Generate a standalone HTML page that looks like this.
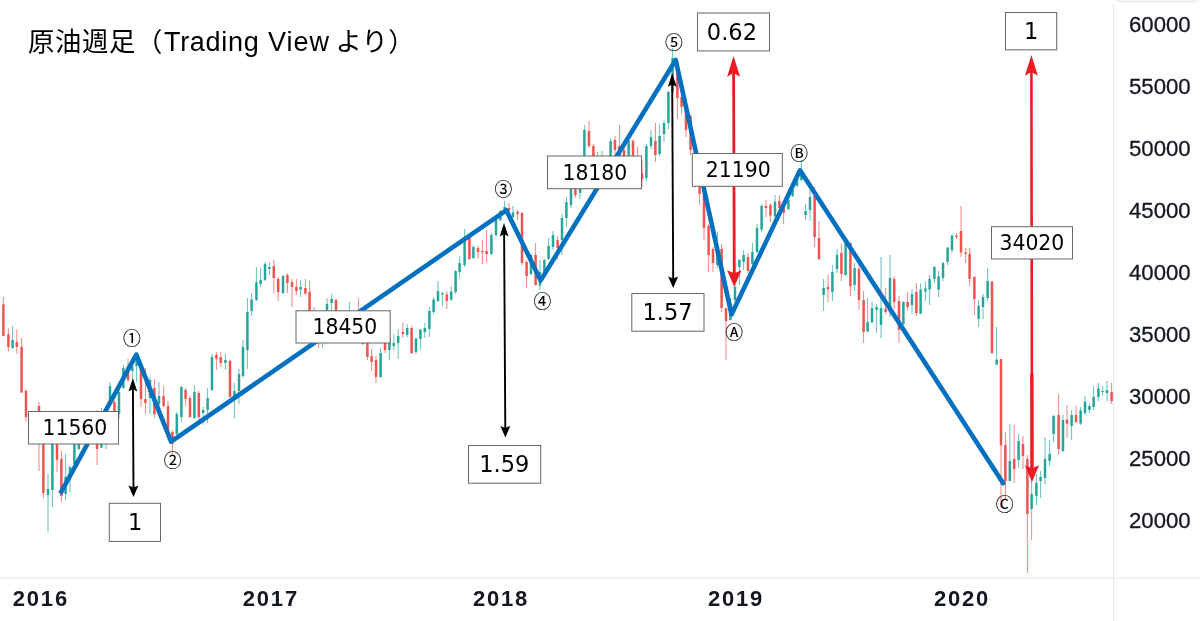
<!DOCTYPE html>
<html lang="ja"><head><meta charset="utf-8"><title>原油週足</title>
<style>
html,body{margin:0;padding:0;background:#fff;}
body{width:1200px;height:621px;overflow:hidden;position:relative;}
svg{position:absolute;left:0;top:0;display:block;}
.num{font-family:"DejaVu Sans","Liberation Sans",sans-serif;fill:#000;}
.ax{font-family:"Liberation Sans","DejaVu Sans",sans-serif;fill:#131722;font-size:22.2px;stroke:#131722;stroke-width:.3px;}
.yr{font-family:"Liberation Sans","DejaVu Sans",sans-serif;fill:#131722;font-size:22px;font-weight:bold;letter-spacing:1.8px;}
.ttl{font-family:"Liberation Sans","Noto Sans CJK JP",sans-serif;fill:#000;}
.cj{font-size:26.4px;}
.cn{font-family:"Noto Sans CJK JP","DejaVu Sans",sans-serif;fill:#000;stroke:#000;stroke-width:.15px;}
.la{font-size:27px;}
</style></head><body>
<svg width="1200" height="621" viewBox="0 0 1200 621">
<rect width="1200" height="621" fill="#fff"/>
<!-- axes -->
<rect x="0" y="577.5" width="1200" height="1" fill="#e6e8ee"/>
<rect x="1113" y="4" width="1" height="617" fill="#e6e8ee"/>
<rect x="1116.7" y="-6" width="81.6" height="7.6" rx="4" fill="#f4f5f8" stroke="#e3e5ea" stroke-width="1"/>
<!-- candles -->
<g>
<rect x="2.9" y="297.0" width="1" height="39.4" fill="#ef5350" opacity=".7"/><rect x="2.15" y="304.4" width="2.5" height="31.6" fill="#ef5350"/>
<rect x="7.9" y="328.4" width="1" height="23.2" fill="#ef5350" opacity=".7"/><rect x="7.15" y="334.4" width="2.5" height="12.6" fill="#ef5350"/>
<rect x="12.1" y="326.0" width="1" height="22.4" fill="#26a69a" opacity=".7"/><rect x="11.35" y="340.0" width="2.5" height="8.0" fill="#26a69a"/>
<rect x="16.3" y="329.4" width="1" height="24.2" fill="#ef5350" opacity=".7"/><rect x="15.55" y="342.0" width="2.5" height="5.0" fill="#ef5350"/>
<rect x="21.1" y="338.0" width="1" height="55.0" fill="#ef5350" opacity=".7"/><rect x="20.35" y="347.0" width="2.5" height="45.4" fill="#ef5350"/>
<rect x="25.5" y="389.0" width="1" height="32.6" fill="#ef5350" opacity=".7"/><rect x="24.75" y="391.0" width="2.5" height="26.0" fill="#ef5350"/>
<rect x="29.9" y="416.0" width="1" height="16.0" fill="#ef5350" opacity=".7"/><rect x="29.15" y="418.0" width="2.5" height="12.0" fill="#ef5350"/>
<rect x="34.3" y="424.0" width="1" height="13.0" fill="#ef5350" opacity=".7"/><rect x="33.55" y="426.0" width="2.5" height="9.0" fill="#ef5350"/>
<rect x="38.5" y="402.0" width="1" height="69.0" fill="#ef5350" opacity=".7"/><rect x="37.75" y="406.0" width="2.5" height="30.0" fill="#ef5350"/>
<rect x="42.9" y="430.0" width="1" height="68.0" fill="#ef5350" opacity=".7"/><rect x="42.15" y="432.0" width="2.5" height="61.0" fill="#ef5350"/>
<rect x="47.5" y="474.0" width="1" height="58.0" fill="#26a69a" opacity=".7"/><rect x="46.75" y="489.0" width="2.5" height="6.0" fill="#26a69a"/>
<rect x="51.9" y="436.0" width="1" height="71.0" fill="#26a69a" opacity=".7"/><rect x="51.15" y="438.0" width="2.5" height="52.0" fill="#26a69a"/>
<rect x="56.5" y="434.0" width="1" height="38.0" fill="#ef5350" opacity=".7"/><rect x="55.75" y="436.0" width="2.5" height="24.0" fill="#ef5350"/>
<rect x="60.9" y="451.0" width="1" height="51.0" fill="#ef5350" opacity=".7"/><rect x="60.15" y="459.0" width="2.5" height="37.0" fill="#ef5350"/>
<rect x="65.1" y="454.0" width="1" height="46.0" fill="#26a69a" opacity=".7"/><rect x="64.35" y="477.0" width="2.5" height="17.0" fill="#26a69a"/>
<rect x="69.5" y="466.0" width="1" height="26.0" fill="#26a69a" opacity=".7"/><rect x="68.75" y="467.0" width="2.5" height="10.0" fill="#26a69a"/>
<rect x="73.9" y="432.0" width="1" height="34.0" fill="#26a69a" opacity=".7"/><rect x="73.15" y="434.0" width="2.5" height="30.0" fill="#26a69a"/>
<rect x="78.3" y="424.0" width="1" height="26.0" fill="#26a69a" opacity=".7"/><rect x="77.55" y="426.0" width="2.5" height="23.0" fill="#26a69a"/>
<rect x="82.7" y="420.0" width="1" height="23.0" fill="#26a69a" opacity=".7"/><rect x="81.95" y="422.0" width="2.5" height="18.0" fill="#26a69a"/>
<rect x="87.1" y="414.0" width="1" height="22.0" fill="#ef5350" opacity=".7"/><rect x="86.35" y="418.0" width="2.5" height="8.0" fill="#ef5350"/>
<rect x="91.5" y="412.0" width="1" height="20.0" fill="#26a69a" opacity=".7"/><rect x="90.75" y="414.0" width="2.5" height="10.0" fill="#26a69a"/>
<rect x="96.5" y="410.0" width="1" height="55.0" fill="#ef5350" opacity=".7"/><rect x="95.75" y="424.0" width="2.5" height="25.0" fill="#ef5350"/>
<rect x="100.9" y="408.0" width="1" height="40.0" fill="#26a69a" opacity=".7"/><rect x="100.15" y="412.0" width="2.5" height="35.6" fill="#26a69a"/>
<rect x="105.5" y="406.0" width="1" height="43.0" fill="#26a69a" opacity=".7"/><rect x="104.75" y="410.0" width="2.5" height="10.0" fill="#26a69a"/>
<rect x="109.5" y="382.4" width="1" height="21.6" fill="#26a69a" opacity=".7"/><rect x="108.75" y="386.0" width="2.5" height="14.0" fill="#26a69a"/>
<rect x="113.9" y="400.0" width="1" height="14.0" fill="#ef5350" opacity=".7"/><rect x="113.15" y="402.0" width="2.5" height="10.0" fill="#ef5350"/>
<rect x="118.5" y="390.0" width="1" height="29.0" fill="#26a69a" opacity=".7"/><rect x="117.75" y="392.0" width="2.5" height="22.0" fill="#26a69a"/>
<rect x="122.9" y="365.0" width="1" height="24.0" fill="#26a69a" opacity=".7"/><rect x="122.15" y="368.0" width="2.5" height="20.0" fill="#26a69a"/>
<rect x="127.5" y="359.0" width="1" height="23.0" fill="#ef5350" opacity=".7"/><rect x="126.75" y="366.0" width="2.5" height="14.0" fill="#ef5350"/>
<rect x="131.9" y="357.0" width="1" height="21.0" fill="#26a69a" opacity=".7"/><rect x="131.15" y="367.0" width="2.5" height="4.0" fill="#26a69a"/>
<rect x="136.1" y="355.0" width="1" height="27.0" fill="#26a69a" opacity=".7"/><rect x="135.35" y="361.0" width="2.5" height="5.0" fill="#26a69a"/>
<rect x="140.5" y="365.0" width="1" height="42.0" fill="#ef5350" opacity=".7"/><rect x="139.75" y="367.0" width="2.5" height="32.0" fill="#ef5350"/>
<rect x="144.9" y="368.0" width="1" height="46.0" fill="#ef5350" opacity=".7"/><rect x="144.15" y="399.0" width="2.5" height="4.0" fill="#ef5350"/>
<rect x="149.5" y="377.0" width="1" height="37.0" fill="#26a69a" opacity=".7"/><rect x="148.75" y="380.0" width="2.5" height="18.0" fill="#26a69a"/>
<rect x="153.9" y="379.0" width="1" height="39.0" fill="#ef5350" opacity=".7"/><rect x="153.15" y="388.0" width="2.5" height="26.0" fill="#ef5350"/>
<rect x="158.5" y="382.0" width="1" height="28.0" fill="#26a69a" opacity=".7"/><rect x="157.75" y="396.0" width="2.5" height="8.0" fill="#26a69a"/>
<rect x="163.1" y="386.0" width="1" height="21.0" fill="#ef5350" opacity=".7"/><rect x="162.35" y="396.0" width="2.5" height="10.0" fill="#ef5350"/>
<rect x="167.5" y="401.0" width="1" height="35.0" fill="#ef5350" opacity=".7"/><rect x="166.75" y="406.0" width="2.5" height="29.0" fill="#ef5350"/>
<rect x="171.9" y="430.0" width="1" height="24.0" fill="#ef5350" opacity=".7"/><rect x="171.15" y="432.0" width="2.5" height="12.0" fill="#ef5350"/>
<rect x="176.3" y="412.0" width="1" height="23.0" fill="#26a69a" opacity=".7"/><rect x="175.55" y="414.0" width="2.5" height="20.0" fill="#26a69a"/>
<rect x="180.9" y="386.0" width="1" height="36.0" fill="#26a69a" opacity=".7"/><rect x="180.15" y="387.0" width="2.5" height="30.0" fill="#26a69a"/>
<rect x="185.1" y="388.0" width="1" height="18.0" fill="#ef5350" opacity=".7"/><rect x="184.35" y="390.0" width="2.5" height="9.0" fill="#ef5350"/>
<rect x="189.5" y="396.0" width="1" height="22.0" fill="#ef5350" opacity=".7"/><rect x="188.75" y="398.0" width="2.5" height="19.0" fill="#ef5350"/>
<rect x="193.9" y="385.0" width="1" height="34.0" fill="#26a69a" opacity=".7"/><rect x="193.15" y="392.0" width="2.5" height="26.0" fill="#26a69a"/>
<rect x="198.3" y="391.0" width="1" height="29.0" fill="#ef5350" opacity=".7"/><rect x="197.55" y="393.0" width="2.5" height="24.0" fill="#ef5350"/>
<rect x="202.7" y="407.0" width="1" height="18.0" fill="#26a69a" opacity=".7"/><rect x="201.95" y="410.0" width="2.5" height="3.0" fill="#26a69a"/>
<rect x="207.1" y="388.0" width="1" height="35.0" fill="#26a69a" opacity=".7"/><rect x="206.35" y="398.0" width="2.5" height="12.0" fill="#26a69a"/>
<rect x="211.5" y="354.0" width="1" height="37.0" fill="#26a69a" opacity=".7"/><rect x="210.75" y="357.0" width="2.5" height="33.0" fill="#26a69a"/>
<rect x="215.9" y="352.0" width="1" height="18.0" fill="#ef5350" opacity=".7"/><rect x="215.15" y="355.0" width="2.5" height="4.0" fill="#ef5350"/>
<rect x="220.3" y="352.0" width="1" height="15.0" fill="#ef5350" opacity=".7"/><rect x="219.55" y="357.0" width="2.5" height="6.0" fill="#ef5350"/>
<rect x="224.9" y="354.0" width="1" height="16.0" fill="#26a69a" opacity=".7"/><rect x="224.15" y="360.0" width="2.5" height="3.0" fill="#26a69a"/>
<rect x="229.5" y="360.0" width="1" height="38.0" fill="#ef5350" opacity=".7"/><rect x="228.75" y="361.0" width="2.5" height="36.0" fill="#ef5350"/>
<rect x="233.9" y="383.0" width="1" height="35.0" fill="#26a69a" opacity=".7"/><rect x="233.15" y="391.0" width="2.5" height="9.0" fill="#26a69a"/>
<rect x="238.5" y="369.0" width="1" height="35.0" fill="#26a69a" opacity=".7"/><rect x="237.75" y="374.0" width="2.5" height="17.0" fill="#26a69a"/>
<rect x="242.5" y="340.0" width="1" height="38.0" fill="#26a69a" opacity=".7"/><rect x="241.75" y="347.0" width="2.5" height="29.0" fill="#26a69a"/>
<rect x="246.9" y="298.0" width="1" height="71.0" fill="#26a69a" opacity=".7"/><rect x="246.15" y="312.0" width="2.5" height="38.0" fill="#26a69a"/>
<rect x="251.1" y="293.0" width="1" height="23.0" fill="#26a69a" opacity=".7"/><rect x="250.35" y="299.6" width="2.5" height="11.4" fill="#26a69a"/>
<rect x="255.9" y="267.0" width="1" height="34.0" fill="#26a69a" opacity=".7"/><rect x="255.15" y="282.4" width="2.5" height="17.6" fill="#26a69a"/>
<rect x="260.1" y="268.0" width="1" height="19.0" fill="#26a69a" opacity=".7"/><rect x="259.35" y="280.0" width="2.5" height="4.0" fill="#26a69a"/>
<rect x="264.5" y="262.0" width="1" height="19.0" fill="#26a69a" opacity=".7"/><rect x="263.75" y="264.0" width="2.5" height="16.0" fill="#26a69a"/>
<rect x="268.9" y="262.0" width="1" height="13.0" fill="#26a69a" opacity=".7"/><rect x="268.15" y="267.0" width="2.5" height="2.0" fill="#26a69a"/>
<rect x="273.3" y="260.0" width="1" height="33.0" fill="#ef5350" opacity=".7"/><rect x="272.55" y="266.0" width="2.5" height="12.0" fill="#ef5350"/>
<rect x="277.7" y="277.0" width="1" height="24.0" fill="#ef5350" opacity=".7"/><rect x="276.95" y="279.0" width="2.5" height="13.0" fill="#ef5350"/>
<rect x="282.5" y="275.0" width="1" height="19.0" fill="#26a69a" opacity=".7"/><rect x="281.75" y="276.0" width="2.5" height="17.0" fill="#26a69a"/>
<rect x="286.9" y="273.0" width="1" height="20.0" fill="#ef5350" opacity=".7"/><rect x="286.15" y="275.0" width="2.5" height="8.0" fill="#ef5350"/>
<rect x="291.5" y="279.0" width="1" height="28.0" fill="#ef5350" opacity=".7"/><rect x="290.75" y="282.0" width="2.5" height="5.0" fill="#ef5350"/>
<rect x="295.9" y="279.0" width="1" height="16.0" fill="#ef5350" opacity=".7"/><rect x="295.15" y="287.0" width="2.5" height="4.0" fill="#ef5350"/>
<rect x="300.1" y="280.0" width="1" height="17.0" fill="#26a69a" opacity=".7"/><rect x="299.35" y="287.0" width="2.5" height="2.6" fill="#26a69a"/>
<rect x="304.9" y="279.0" width="1" height="16.0" fill="#ef5350" opacity=".7"/><rect x="304.15" y="288.0" width="2.5" height="5.6" fill="#ef5350"/>
<rect x="309.1" y="281.0" width="1" height="41.0" fill="#ef5350" opacity=".7"/><rect x="308.35" y="292.0" width="2.5" height="28.0" fill="#ef5350"/>
<rect x="313.5" y="307.0" width="1" height="25.0" fill="#ef5350" opacity=".7"/><rect x="312.75" y="320.0" width="2.5" height="10.0" fill="#ef5350"/>
<rect x="317.9" y="326.0" width="1" height="22.0" fill="#ef5350" opacity=".7"/><rect x="317.15" y="328.0" width="2.5" height="12.0" fill="#ef5350"/>
<rect x="322.1" y="320.0" width="1" height="28.0" fill="#26a69a" opacity=".7"/><rect x="321.35" y="324.0" width="2.5" height="16.0" fill="#26a69a"/>
<rect x="326.5" y="298.0" width="1" height="28.0" fill="#26a69a" opacity=".7"/><rect x="325.75" y="304.0" width="2.5" height="20.0" fill="#26a69a"/>
<rect x="331.1" y="294.0" width="1" height="26.0" fill="#26a69a" opacity=".7"/><rect x="330.35" y="299.0" width="2.5" height="4.0" fill="#26a69a"/>
<rect x="335.5" y="299.0" width="1" height="23.0" fill="#ef5350" opacity=".7"/><rect x="334.75" y="300.0" width="2.5" height="20.0" fill="#ef5350"/>
<rect x="339.9" y="316.0" width="1" height="12.0" fill="#ef5350" opacity=".7"/><rect x="339.15" y="318.0" width="2.5" height="6.0" fill="#ef5350"/>
<rect x="344.5" y="314.0" width="1" height="12.0" fill="#26a69a" opacity=".7"/><rect x="343.75" y="316.0" width="2.5" height="8.0" fill="#26a69a"/>
<rect x="348.9" y="302.0" width="1" height="22.0" fill="#26a69a" opacity=".7"/><rect x="348.15" y="314.0" width="2.5" height="8.0" fill="#26a69a"/>
<rect x="353.5" y="312.0" width="1" height="10.0" fill="#ef5350" opacity=".7"/><rect x="352.75" y="314.0" width="2.5" height="6.0" fill="#ef5350"/>
<rect x="357.9" y="298.0" width="1" height="32.0" fill="#ef5350" opacity=".7"/><rect x="357.15" y="312.0" width="2.5" height="16.0" fill="#ef5350"/>
<rect x="362.3" y="320.0" width="1" height="25.0" fill="#ef5350" opacity=".7"/><rect x="361.55" y="328.0" width="2.5" height="16.0" fill="#ef5350"/>
<rect x="366.9" y="340.0" width="1" height="20.0" fill="#ef5350" opacity=".7"/><rect x="366.15" y="342.0" width="2.5" height="15.0" fill="#ef5350"/>
<rect x="371.1" y="349.0" width="1" height="22.0" fill="#ef5350" opacity=".7"/><rect x="370.35" y="356.0" width="2.5" height="6.0" fill="#ef5350"/>
<rect x="375.5" y="356.0" width="1" height="27.0" fill="#ef5350" opacity=".7"/><rect x="374.75" y="360.0" width="2.5" height="17.0" fill="#ef5350"/>
<rect x="380.1" y="348.0" width="1" height="30.0" fill="#26a69a" opacity=".7"/><rect x="379.35" y="353.0" width="2.5" height="24.0" fill="#26a69a"/>
<rect x="384.5" y="340.0" width="1" height="13.0" fill="#ef5350" opacity=".7"/><rect x="383.75" y="341.0" width="2.5" height="9.0" fill="#ef5350"/>
<rect x="388.9" y="336.0" width="1" height="24.0" fill="#26a69a" opacity=".7"/><rect x="388.15" y="338.0" width="2.5" height="12.0" fill="#26a69a"/>
<rect x="393.3" y="334.0" width="1" height="16.0" fill="#26a69a" opacity=".7"/><rect x="392.55" y="343.0" width="2.5" height="3.0" fill="#26a69a"/>
<rect x="397.7" y="329.0" width="1" height="30.0" fill="#26a69a" opacity=".7"/><rect x="396.95" y="336.0" width="2.5" height="7.0" fill="#26a69a"/>
<rect x="402.3" y="323.0" width="1" height="15.0" fill="#ef5350" opacity=".7"/><rect x="401.55" y="332.0" width="2.5" height="2.0" fill="#ef5350"/>
<rect x="406.7" y="324.0" width="1" height="13.0" fill="#26a69a" opacity=".7"/><rect x="405.95" y="328.0" width="2.5" height="7.0" fill="#26a69a"/>
<rect x="411.1" y="326.0" width="1" height="28.0" fill="#ef5350" opacity=".7"/><rect x="410.35" y="328.0" width="2.5" height="25.0" fill="#ef5350"/>
<rect x="415.5" y="338.0" width="1" height="16.0" fill="#26a69a" opacity=".7"/><rect x="414.75" y="338.4" width="2.5" height="13.6" fill="#26a69a"/>
<rect x="419.9" y="329.0" width="1" height="21.0" fill="#26a69a" opacity=".7"/><rect x="419.15" y="329.6" width="2.5" height="9.4" fill="#26a69a"/>
<rect x="424.3" y="323.0" width="1" height="15.0" fill="#26a69a" opacity=".7"/><rect x="423.55" y="328.0" width="2.5" height="4.0" fill="#26a69a"/>
<rect x="428.9" y="307.0" width="1" height="30.0" fill="#26a69a" opacity=".7"/><rect x="428.15" y="311.0" width="2.5" height="18.0" fill="#26a69a"/>
<rect x="433.1" y="297.0" width="1" height="17.0" fill="#26a69a" opacity=".7"/><rect x="432.35" y="299.6" width="2.5" height="12.4" fill="#26a69a"/>
<rect x="437.5" y="281.0" width="1" height="21.0" fill="#26a69a" opacity=".7"/><rect x="436.75" y="291.0" width="2.5" height="10.0" fill="#26a69a"/>
<rect x="441.9" y="292.0" width="1" height="14.0" fill="#26a69a" opacity=".7"/><rect x="441.15" y="293.0" width="2.5" height="1.4" fill="#26a69a"/>
<rect x="446.3" y="291.0" width="1" height="18.0" fill="#ef5350" opacity=".7"/><rect x="445.55" y="294.4" width="2.5" height="6.6" fill="#ef5350"/>
<rect x="450.7" y="286.0" width="1" height="15.0" fill="#26a69a" opacity=".7"/><rect x="449.95" y="291.6" width="2.5" height="8.0" fill="#26a69a"/>
<rect x="455.1" y="270.0" width="1" height="24.0" fill="#26a69a" opacity=".7"/><rect x="454.35" y="271.0" width="2.5" height="21.0" fill="#26a69a"/>
<rect x="459.1" y="256.0" width="1" height="22.0" fill="#26a69a" opacity=".7"/><rect x="458.35" y="263.0" width="2.5" height="9.0" fill="#26a69a"/>
<rect x="464.1" y="229.0" width="1" height="38.0" fill="#26a69a" opacity=".7"/><rect x="463.35" y="240.0" width="2.5" height="25.0" fill="#26a69a"/>
<rect x="468.9" y="237.0" width="1" height="23.0" fill="#ef5350" opacity=".7"/><rect x="468.15" y="238.0" width="2.5" height="21.0" fill="#ef5350"/>
<rect x="472.9" y="245.0" width="1" height="14.0" fill="#26a69a" opacity=".7"/><rect x="472.15" y="247.0" width="2.5" height="11.0" fill="#26a69a"/>
<rect x="477.5" y="246.0" width="1" height="13.0" fill="#ef5350" opacity=".7"/><rect x="476.75" y="248.0" width="2.5" height="4.0" fill="#ef5350"/>
<rect x="481.9" y="240.0" width="1" height="24.0" fill="#ef5350" opacity=".7"/><rect x="481.15" y="251.0" width="2.5" height="1.4" fill="#ef5350"/>
<rect x="486.1" y="230.0" width="1" height="32.0" fill="#ef5350" opacity=".7"/><rect x="485.35" y="251.0" width="2.5" height="3.0" fill="#ef5350"/>
<rect x="490.9" y="233.0" width="1" height="22.0" fill="#26a69a" opacity=".7"/><rect x="490.15" y="235.0" width="2.5" height="19.0" fill="#26a69a"/>
<rect x="495.5" y="218.0" width="1" height="19.0" fill="#26a69a" opacity=".7"/><rect x="494.75" y="220.0" width="2.5" height="15.0" fill="#26a69a"/>
<rect x="499.9" y="210.0" width="1" height="11.0" fill="#26a69a" opacity=".7"/><rect x="499.15" y="211.0" width="2.5" height="9.0" fill="#26a69a"/>
<rect x="504.1" y="201.0" width="1" height="12.0" fill="#26a69a" opacity=".7"/><rect x="503.35" y="207.0" width="2.5" height="5.0" fill="#26a69a"/>
<rect x="508.5" y="203.0" width="1" height="15.0" fill="#ef5350" opacity=".7"/><rect x="507.75" y="208.0" width="2.5" height="2.4" fill="#ef5350"/>
<rect x="512.5" y="206.0" width="1" height="12.0" fill="#26a69a" opacity=".7"/><rect x="511.75" y="212.4" width="2.5" height="4.6" fill="#26a69a"/>
<rect x="517.1" y="210.0" width="1" height="10.0" fill="#ef5350" opacity=".7"/><rect x="516.35" y="211.6" width="2.5" height="2.4" fill="#ef5350"/>
<rect x="521.5" y="212.0" width="1" height="53.0" fill="#ef5350" opacity=".7"/><rect x="520.75" y="213.0" width="2.5" height="50.0" fill="#ef5350"/>
<rect x="526.1" y="260.0" width="1" height="28.0" fill="#ef5350" opacity=".7"/><rect x="525.35" y="262.0" width="2.5" height="14.0" fill="#ef5350"/>
<rect x="530.5" y="254.0" width="1" height="21.0" fill="#26a69a" opacity=".7"/><rect x="529.75" y="255.0" width="2.5" height="19.0" fill="#26a69a"/>
<rect x="535.1" y="243.0" width="1" height="43.0" fill="#ef5350" opacity=".7"/><rect x="534.35" y="255.0" width="2.5" height="30.0" fill="#ef5350"/>
<rect x="539.5" y="260.0" width="1" height="30.0" fill="#26a69a" opacity=".7"/><rect x="538.75" y="272.0" width="2.5" height="13.6" fill="#26a69a"/>
<rect x="543.9" y="259.0" width="1" height="14.0" fill="#26a69a" opacity=".7"/><rect x="543.15" y="260.0" width="2.5" height="12.0" fill="#26a69a"/>
<rect x="548.1" y="238.0" width="1" height="22.0" fill="#26a69a" opacity=".7"/><rect x="547.35" y="246.0" width="2.5" height="13.0" fill="#26a69a"/>
<rect x="552.5" y="231.0" width="1" height="19.0" fill="#26a69a" opacity=".7"/><rect x="551.75" y="235.0" width="2.5" height="12.0" fill="#26a69a"/>
<rect x="557.1" y="236.0" width="1" height="24.0" fill="#ef5350" opacity=".7"/><rect x="556.35" y="240.0" width="2.5" height="8.0" fill="#ef5350"/>
<rect x="561.5" y="214.0" width="1" height="41.0" fill="#26a69a" opacity=".7"/><rect x="560.75" y="218.0" width="2.5" height="22.0" fill="#26a69a"/>
<rect x="565.9" y="197.0" width="1" height="30.0" fill="#26a69a" opacity=".7"/><rect x="565.15" y="202.0" width="2.5" height="16.0" fill="#26a69a"/>
<rect x="570.5" y="184.0" width="1" height="24.0" fill="#26a69a" opacity=".7"/><rect x="569.75" y="186.0" width="2.5" height="19.0" fill="#26a69a"/>
<rect x="574.9" y="180.0" width="1" height="18.0" fill="#ef5350" opacity=".7"/><rect x="574.15" y="184.0" width="2.5" height="11.0" fill="#ef5350"/>
<rect x="579.5" y="178.0" width="1" height="21.0" fill="#26a69a" opacity=".7"/><rect x="578.75" y="182.0" width="2.5" height="11.0" fill="#26a69a"/>
<rect x="583.9" y="125.0" width="1" height="47.0" fill="#26a69a" opacity=".7"/><rect x="583.15" y="130.0" width="2.5" height="40.0" fill="#26a69a"/>
<rect x="588.5" y="121.0" width="1" height="27.0" fill="#ef5350" opacity=".7"/><rect x="587.75" y="131.0" width="2.5" height="15.0" fill="#ef5350"/>
<rect x="592.9" y="144.0" width="1" height="20.0" fill="#ef5350" opacity=".7"/><rect x="592.15" y="146.0" width="2.5" height="16.0" fill="#ef5350"/>
<rect x="597.1" y="152.0" width="1" height="18.0" fill="#ef5350" opacity=".7"/><rect x="596.35" y="158.0" width="2.5" height="8.0" fill="#ef5350"/>
<rect x="601.5" y="151.0" width="1" height="21.0" fill="#26a69a" opacity=".7"/><rect x="600.75" y="158.0" width="2.5" height="12.0" fill="#26a69a"/>
<rect x="605.9" y="156.0" width="1" height="12.0" fill="#ef5350" opacity=".7"/><rect x="605.15" y="158.0" width="2.5" height="4.0" fill="#ef5350"/>
<rect x="610.1" y="138.0" width="1" height="26.0" fill="#26a69a" opacity=".7"/><rect x="609.35" y="141.0" width="2.5" height="21.0" fill="#26a69a"/>
<rect x="614.5" y="136.0" width="1" height="22.0" fill="#ef5350" opacity=".7"/><rect x="613.75" y="140.0" width="2.5" height="10.0" fill="#ef5350"/>
<rect x="618.9" y="125.0" width="1" height="41.0" fill="#ef5350" opacity=".7"/><rect x="618.15" y="146.0" width="2.5" height="16.0" fill="#ef5350"/>
<rect x="623.5" y="148.0" width="1" height="26.0" fill="#ef5350" opacity=".7"/><rect x="622.75" y="150.0" width="2.5" height="20.0" fill="#ef5350"/>
<rect x="628.1" y="140.0" width="1" height="28.0" fill="#26a69a" opacity=".7"/><rect x="627.35" y="141.0" width="2.5" height="25.0" fill="#26a69a"/>
<rect x="632.5" y="139.0" width="1" height="35.0" fill="#ef5350" opacity=".7"/><rect x="631.75" y="141.0" width="2.5" height="29.0" fill="#ef5350"/>
<rect x="637.1" y="147.0" width="1" height="35.0" fill="#ef5350" opacity=".7"/><rect x="636.35" y="162.0" width="2.5" height="16.0" fill="#ef5350"/>
<rect x="641.5" y="160.0" width="1" height="27.0" fill="#ef5350" opacity=".7"/><rect x="640.75" y="173.0" width="2.5" height="6.0" fill="#ef5350"/>
<rect x="645.9" y="144.0" width="1" height="37.0" fill="#26a69a" opacity=".7"/><rect x="645.15" y="146.0" width="2.5" height="32.0" fill="#26a69a"/>
<rect x="650.5" y="130.0" width="1" height="19.0" fill="#26a69a" opacity=".7"/><rect x="649.75" y="137.0" width="2.5" height="9.0" fill="#26a69a"/>
<rect x="654.9" y="123.0" width="1" height="39.0" fill="#ef5350" opacity=".7"/><rect x="654.15" y="141.0" width="2.5" height="14.0" fill="#ef5350"/>
<rect x="659.1" y="124.0" width="1" height="32.0" fill="#26a69a" opacity=".7"/><rect x="658.35" y="136.0" width="2.5" height="18.0" fill="#26a69a"/>
<rect x="663.5" y="120.0" width="1" height="22.0" fill="#26a69a" opacity=".7"/><rect x="662.75" y="123.0" width="2.5" height="11.0" fill="#26a69a"/>
<rect x="667.9" y="91.0" width="1" height="38.0" fill="#26a69a" opacity=".7"/><rect x="667.15" y="92.0" width="2.5" height="31.0" fill="#26a69a"/>
<rect x="672.1" y="48.0" width="1" height="48.0" fill="#26a69a" opacity=".7"/><rect x="671.35" y="58.0" width="2.5" height="34.0" fill="#26a69a"/>
<rect x="676.9" y="62.0" width="1" height="57.0" fill="#ef5350" opacity=".7"/><rect x="676.15" y="63.0" width="2.5" height="35.0" fill="#ef5350"/>
<rect x="681.1" y="87.0" width="1" height="27.0" fill="#ef5350" opacity=".7"/><rect x="680.35" y="97.0" width="2.5" height="10.0" fill="#ef5350"/>
<rect x="685.5" y="107.0" width="1" height="30.0" fill="#ef5350" opacity=".7"/><rect x="684.75" y="110.0" width="2.5" height="20.0" fill="#ef5350"/>
<rect x="690.1" y="115.0" width="1" height="40.0" fill="#ef5350" opacity=".7"/><rect x="689.35" y="116.0" width="2.5" height="34.0" fill="#ef5350"/>
<rect x="694.5" y="148.0" width="1" height="40.0" fill="#ef5350" opacity=".7"/><rect x="693.75" y="150.0" width="2.5" height="36.0" fill="#ef5350"/>
<rect x="699.1" y="184.0" width="1" height="21.0" fill="#ef5350" opacity=".7"/><rect x="698.35" y="186.4" width="2.5" height="7.6" fill="#ef5350"/>
<rect x="703.5" y="184.0" width="1" height="56.0" fill="#ef5350" opacity=".7"/><rect x="702.75" y="186.4" width="2.5" height="41.6" fill="#ef5350"/>
<rect x="708.1" y="224.0" width="1" height="48.0" fill="#ef5350" opacity=".7"/><rect x="707.35" y="226.0" width="2.5" height="29.0" fill="#ef5350"/>
<rect x="712.5" y="247.0" width="1" height="25.0" fill="#ef5350" opacity=".7"/><rect x="711.75" y="249.0" width="2.5" height="14.0" fill="#ef5350"/>
<rect x="716.9" y="232.0" width="1" height="36.0" fill="#26a69a" opacity=".7"/><rect x="716.15" y="250.0" width="2.5" height="15.0" fill="#26a69a"/>
<rect x="721.1" y="244.0" width="1" height="68.0" fill="#ef5350" opacity=".7"/><rect x="720.35" y="249.0" width="2.5" height="59.0" fill="#ef5350"/>
<rect x="725.5" y="308.0" width="1" height="52.0" fill="#ef5350" opacity=".7"/><rect x="724.75" y="308.0" width="2.5" height="13.0" fill="#ef5350"/>
<rect x="729.9" y="298.0" width="1" height="22.4" fill="#26a69a" opacity=".7"/><rect x="729.15" y="303.0" width="2.5" height="17.0" fill="#26a69a"/>
<rect x="734.5" y="285.0" width="1" height="17.0" fill="#26a69a" opacity=".7"/><rect x="733.75" y="287.0" width="2.5" height="13.0" fill="#26a69a"/>
<rect x="738.9" y="259.0" width="1" height="26.0" fill="#26a69a" opacity=".7"/><rect x="738.15" y="260.0" width="2.5" height="7.0" fill="#26a69a"/>
<rect x="743.1" y="250.0" width="1" height="20.0" fill="#26a69a" opacity=".7"/><rect x="742.35" y="255.0" width="2.5" height="7.0" fill="#26a69a"/>
<rect x="747.5" y="253.0" width="1" height="20.0" fill="#ef5350" opacity=".7"/><rect x="746.75" y="257.0" width="2.5" height="14.0" fill="#ef5350"/>
<rect x="751.9" y="243.0" width="1" height="22.0" fill="#26a69a" opacity=".7"/><rect x="751.15" y="252.0" width="2.5" height="12.0" fill="#26a69a"/>
<rect x="756.5" y="224.0" width="1" height="29.0" fill="#26a69a" opacity=".7"/><rect x="755.75" y="228.0" width="2.5" height="24.0" fill="#26a69a"/>
<rect x="761.1" y="204.0" width="1" height="28.0" fill="#26a69a" opacity=".7"/><rect x="760.35" y="206.0" width="2.5" height="23.6" fill="#26a69a"/>
<rect x="765.5" y="200.0" width="1" height="17.0" fill="#ef5350" opacity=".7"/><rect x="764.75" y="206.0" width="2.5" height="2.0" fill="#ef5350"/>
<rect x="769.9" y="203.0" width="1" height="19.0" fill="#ef5350" opacity=".7"/><rect x="769.15" y="205.0" width="2.5" height="10.6" fill="#ef5350"/>
<rect x="774.5" y="195.0" width="1" height="22.0" fill="#26a69a" opacity=".7"/><rect x="773.75" y="201.6" width="2.5" height="14.8" fill="#26a69a"/>
<rect x="778.9" y="195.0" width="1" height="17.0" fill="#ef5350" opacity=".7"/><rect x="778.15" y="201.0" width="2.5" height="7.0" fill="#ef5350"/>
<rect x="783.1" y="206.0" width="1" height="18.0" fill="#ef5350" opacity=".7"/><rect x="782.35" y="208.0" width="2.5" height="5.0" fill="#ef5350"/>
<rect x="787.9" y="194.0" width="1" height="16.0" fill="#26a69a" opacity=".7"/><rect x="787.15" y="200.0" width="2.5" height="9.0" fill="#26a69a"/>
<rect x="792.1" y="188.0" width="1" height="9.0" fill="#26a69a" opacity=".7"/><rect x="791.35" y="190.0" width="2.5" height="6.0" fill="#26a69a"/>
<rect x="796.5" y="178.0" width="1" height="9.0" fill="#26a69a" opacity=".7"/><rect x="795.75" y="180.0" width="2.5" height="6.0" fill="#26a69a"/>
<rect x="800.9" y="160.0" width="1" height="21.0" fill="#26a69a" opacity=".7"/><rect x="800.15" y="171.0" width="2.5" height="9.0" fill="#26a69a"/>
<rect x="805.1" y="204.0" width="1" height="16.0" fill="#26a69a" opacity=".7"/><rect x="804.35" y="211.0" width="2.5" height="4.0" fill="#26a69a"/>
<rect x="809.5" y="190.0" width="1" height="31.0" fill="#26a69a" opacity=".7"/><rect x="808.75" y="197.0" width="2.5" height="13.0" fill="#26a69a"/>
<rect x="814.1" y="187.0" width="1" height="60.0" fill="#ef5350" opacity=".7"/><rect x="813.35" y="196.0" width="2.5" height="41.0" fill="#ef5350"/>
<rect x="818.5" y="221.0" width="1" height="39.0" fill="#ef5350" opacity=".7"/><rect x="817.75" y="238.0" width="2.5" height="21.0" fill="#ef5350"/>
<rect x="823.1" y="279.0" width="1" height="32.0" fill="#26a69a" opacity=".7"/><rect x="822.35" y="288.0" width="2.5" height="7.0" fill="#26a69a"/>
<rect x="827.5" y="275.0" width="1" height="27.0" fill="#ef5350" opacity=".7"/><rect x="826.75" y="287.0" width="2.5" height="2.4" fill="#ef5350"/>
<rect x="831.9" y="265.0" width="1" height="36.0" fill="#26a69a" opacity=".7"/><rect x="831.15" y="272.0" width="2.5" height="20.0" fill="#26a69a"/>
<rect x="836.5" y="249.0" width="1" height="24.0" fill="#26a69a" opacity=".7"/><rect x="835.75" y="255.0" width="2.5" height="14.0" fill="#26a69a"/>
<rect x="840.9" y="244.0" width="1" height="37.0" fill="#ef5350" opacity=".7"/><rect x="840.15" y="253.0" width="2.5" height="21.0" fill="#ef5350"/>
<rect x="845.1" y="239.0" width="1" height="37.0" fill="#26a69a" opacity=".7"/><rect x="844.35" y="243.0" width="2.5" height="32.0" fill="#26a69a"/>
<rect x="849.9" y="242.0" width="1" height="54.0" fill="#ef5350" opacity=".7"/><rect x="849.15" y="243.0" width="2.5" height="43.0" fill="#ef5350"/>
<rect x="854.1" y="263.0" width="1" height="28.0" fill="#26a69a" opacity=".7"/><rect x="853.35" y="268.0" width="2.5" height="17.0" fill="#26a69a"/>
<rect x="858.5" y="265.0" width="1" height="45.0" fill="#ef5350" opacity=".7"/><rect x="857.75" y="269.0" width="2.5" height="31.0" fill="#ef5350"/>
<rect x="863.1" y="291.0" width="1" height="52.0" fill="#ef5350" opacity=".7"/><rect x="862.35" y="300.0" width="2.5" height="32.0" fill="#ef5350"/>
<rect x="867.1" y="298.0" width="1" height="34.0" fill="#26a69a" opacity=".7"/><rect x="866.35" y="322.0" width="2.5" height="9.6" fill="#26a69a"/>
<rect x="871.5" y="301.0" width="1" height="22.0" fill="#26a69a" opacity=".7"/><rect x="870.75" y="308.0" width="2.5" height="14.4" fill="#26a69a"/>
<rect x="876.1" y="304.0" width="1" height="29.0" fill="#26a69a" opacity=".7"/><rect x="875.35" y="307.0" width="2.5" height="3.0" fill="#26a69a"/>
<rect x="880.5" y="257.0" width="1" height="81.0" fill="#26a69a" opacity=".7"/><rect x="879.75" y="308.0" width="2.5" height="17.0" fill="#26a69a"/>
<rect x="885.1" y="288.0" width="1" height="26.0" fill="#ef5350" opacity=".7"/><rect x="884.35" y="309.0" width="2.5" height="3.0" fill="#ef5350"/>
<rect x="889.5" y="255.0" width="1" height="62.0" fill="#26a69a" opacity=".7"/><rect x="888.75" y="278.0" width="2.5" height="29.0" fill="#26a69a"/>
<rect x="893.7" y="276.0" width="1" height="33.0" fill="#ef5350" opacity=".7"/><rect x="892.95" y="279.0" width="2.5" height="23.0" fill="#ef5350"/>
<rect x="898.5" y="296.0" width="1" height="47.0" fill="#ef5350" opacity=".7"/><rect x="897.75" y="301.0" width="2.5" height="29.0" fill="#ef5350"/>
<rect x="902.9" y="301.0" width="1" height="24.0" fill="#26a69a" opacity=".7"/><rect x="902.15" y="302.0" width="2.5" height="22.0" fill="#26a69a"/>
<rect x="907.1" y="292.0" width="1" height="19.0" fill="#ef5350" opacity=".7"/><rect x="906.35" y="302.0" width="2.5" height="5.0" fill="#ef5350"/>
<rect x="911.5" y="289.0" width="1" height="25.0" fill="#26a69a" opacity=".7"/><rect x="910.75" y="294.0" width="2.5" height="11.0" fill="#26a69a"/>
<rect x="915.9" y="283.0" width="1" height="33.0" fill="#ef5350" opacity=".7"/><rect x="915.15" y="292.0" width="2.5" height="21.0" fill="#ef5350"/>
<rect x="920.1" y="283.0" width="1" height="31.0" fill="#26a69a" opacity=".7"/><rect x="919.35" y="289.6" width="2.5" height="24.0" fill="#26a69a"/>
<rect x="924.9" y="281.6" width="1" height="19.4" fill="#26a69a" opacity=".7"/><rect x="924.15" y="288.4" width="2.5" height="3.2" fill="#26a69a"/>
<rect x="929.1" y="275.0" width="1" height="30.0" fill="#26a69a" opacity=".7"/><rect x="928.35" y="279.0" width="2.5" height="10.4" fill="#26a69a"/>
<rect x="933.9" y="266.0" width="1" height="17.0" fill="#26a69a" opacity=".7"/><rect x="933.15" y="267.0" width="2.5" height="12.0" fill="#26a69a"/>
<rect x="938.1" y="271.0" width="1" height="26.0" fill="#26a69a" opacity=".7"/><rect x="937.35" y="276.4" width="2.5" height="13.2" fill="#26a69a"/>
<rect x="942.5" y="262.0" width="1" height="19.0" fill="#26a69a" opacity=".7"/><rect x="941.75" y="263.0" width="2.5" height="15.0" fill="#26a69a"/>
<rect x="947.1" y="247.0" width="1" height="18.0" fill="#26a69a" opacity=".7"/><rect x="946.35" y="247.6" width="2.5" height="14.4" fill="#26a69a"/>
<rect x="951.5" y="235.0" width="1" height="18.0" fill="#26a69a" opacity=".7"/><rect x="950.75" y="235.6" width="2.5" height="14.4" fill="#26a69a"/>
<rect x="955.9" y="233.0" width="1" height="6.0" fill="#ef5350" opacity=".7"/><rect x="955.15" y="235.6" width="2.5" height="1.4" fill="#ef5350"/>
<rect x="960.5" y="206.0" width="1" height="51.0" fill="#ef5350" opacity=".7"/><rect x="959.75" y="231.0" width="2.5" height="21.4" fill="#ef5350"/>
<rect x="965.1" y="248.0" width="1" height="15.0" fill="#ef5350" opacity=".7"/><rect x="964.35" y="252.4" width="2.5" height="1.6" fill="#ef5350"/>
<rect x="969.1" y="248.0" width="1" height="38.0" fill="#ef5350" opacity=".7"/><rect x="968.35" y="254.0" width="2.5" height="25.0" fill="#ef5350"/>
<rect x="973.9" y="276.0" width="1" height="39.0" fill="#ef5350" opacity=".7"/><rect x="973.15" y="277.0" width="2.5" height="22.0" fill="#ef5350"/>
<rect x="978.1" y="300.0" width="1" height="27.0" fill="#26a69a" opacity=".7"/><rect x="977.35" y="305.6" width="2.5" height="13.4" fill="#26a69a"/>
<rect x="982.5" y="294.0" width="1" height="25.0" fill="#26a69a" opacity=".7"/><rect x="981.75" y="297.0" width="2.5" height="10.0" fill="#26a69a"/>
<rect x="987.1" y="268.0" width="1" height="33.0" fill="#26a69a" opacity=".7"/><rect x="986.35" y="281.0" width="2.5" height="17.0" fill="#26a69a"/>
<rect x="991.5" y="281.0" width="1" height="73.0" fill="#ef5350" opacity=".7"/><rect x="990.75" y="281.6" width="2.5" height="71.4" fill="#ef5350"/>
<rect x="996.1" y="327.0" width="1" height="38.0" fill="#26a69a" opacity=".7"/><rect x="995.35" y="359.6" width="2.5" height="5.0" fill="#26a69a"/>
<rect x="1000.5" y="359.0" width="1" height="149.0" fill="#ef5350" opacity=".7"/><rect x="999.75" y="359.0" width="2.5" height="86.4" fill="#ef5350"/>
<rect x="1004.9" y="432.0" width="1" height="68.0" fill="#ef5350" opacity=".7"/><rect x="1004.15" y="445.0" width="2.5" height="36.0" fill="#ef5350"/>
<rect x="1009.3" y="424.0" width="1" height="57.0" fill="#26a69a" opacity=".7"/><rect x="1008.55" y="461.0" width="2.5" height="20.0" fill="#26a69a"/>
<rect x="1013.7" y="425.0" width="1" height="58.0" fill="#ef5350" opacity=".7"/><rect x="1012.95" y="459.0" width="2.5" height="10.0" fill="#ef5350"/>
<rect x="1018.1" y="434.0" width="1" height="34.0" fill="#26a69a" opacity=".7"/><rect x="1017.35" y="441.0" width="2.5" height="19.0" fill="#26a69a"/>
<rect x="1022.5" y="436.0" width="1" height="33.0" fill="#ef5350" opacity=".7"/><rect x="1021.75" y="444.0" width="2.5" height="12.0" fill="#ef5350"/>
<rect x="1026.9" y="455.0" width="1" height="118.0" fill="#ef5350" opacity=".7"/><rect x="1026.15" y="459.0" width="2.5" height="55.0" fill="#ef5350"/>
<rect x="1031.1" y="464.0" width="1" height="76.0" fill="#26a69a" opacity=".7"/><rect x="1030.35" y="494.0" width="2.5" height="15.0" fill="#26a69a"/>
<rect x="1035.9" y="474.0" width="1" height="31.0" fill="#26a69a" opacity=".7"/><rect x="1035.15" y="483.0" width="2.5" height="13.0" fill="#26a69a"/>
<rect x="1040.1" y="471.0" width="1" height="27.0" fill="#26a69a" opacity=".7"/><rect x="1039.35" y="477.0" width="2.5" height="4.0" fill="#26a69a"/>
<rect x="1044.5" y="437.0" width="1" height="47.0" fill="#26a69a" opacity=".7"/><rect x="1043.75" y="459.0" width="2.5" height="19.0" fill="#26a69a"/>
<rect x="1049.1" y="440.0" width="1" height="26.0" fill="#26a69a" opacity=".7"/><rect x="1048.35" y="454.0" width="2.5" height="7.0" fill="#26a69a"/>
<rect x="1053.1" y="415.0" width="1" height="27.0" fill="#26a69a" opacity=".7"/><rect x="1052.35" y="416.0" width="2.5" height="18.0" fill="#26a69a"/>
<rect x="1058.1" y="394.0" width="1" height="61.0" fill="#ef5350" opacity=".7"/><rect x="1057.35" y="415.0" width="2.5" height="34.0" fill="#ef5350"/>
<rect x="1062.5" y="415.0" width="1" height="37.0" fill="#26a69a" opacity=".7"/><rect x="1061.75" y="420.0" width="2.5" height="31.0" fill="#26a69a"/>
<rect x="1066.5" y="405.0" width="1" height="33.0" fill="#ef5350" opacity=".7"/><rect x="1065.75" y="419.6" width="2.5" height="4.0" fill="#ef5350"/>
<rect x="1071.1" y="410.0" width="1" height="30.0" fill="#26a69a" opacity=".7"/><rect x="1070.35" y="415.0" width="2.5" height="11.0" fill="#26a69a"/>
<rect x="1075.5" y="406.0" width="1" height="17.0" fill="#ef5350" opacity=".7"/><rect x="1074.75" y="415.0" width="2.5" height="7.0" fill="#ef5350"/>
<rect x="1080.1" y="407.0" width="1" height="18.0" fill="#26a69a" opacity=".7"/><rect x="1079.35" y="410.4" width="2.5" height="13.2" fill="#26a69a"/>
<rect x="1084.5" y="396.0" width="1" height="19.0" fill="#26a69a" opacity=".7"/><rect x="1083.75" y="401.6" width="2.5" height="11.4" fill="#26a69a"/>
<rect x="1088.9" y="404.0" width="1" height="9.0" fill="#26a69a" opacity=".7"/><rect x="1088.15" y="406.0" width="2.5" height="4.0" fill="#26a69a"/>
<rect x="1093.1" y="386.0" width="1" height="24.0" fill="#26a69a" opacity=".7"/><rect x="1092.35" y="397.0" width="2.5" height="10.0" fill="#26a69a"/>
<rect x="1097.9" y="383.0" width="1" height="18.0" fill="#26a69a" opacity=".7"/><rect x="1097.15" y="388.4" width="2.5" height="8.6" fill="#26a69a"/>
<rect x="1102.1" y="386.0" width="1" height="10.0" fill="#26a69a" opacity=".7"/><rect x="1101.35" y="391.0" width="2.5" height="1.0" fill="#26a69a"/>
<rect x="1106.5" y="381.0" width="1" height="20.0" fill="#26a69a" opacity=".7"/><rect x="1105.75" y="390.0" width="2.5" height="3.0" fill="#26a69a"/>
<rect x="1111.1" y="383.0" width="1" height="21.0" fill="#ef5350" opacity=".7"/><rect x="1110.35" y="392.0" width="2.5" height="9.0" fill="#ef5350"/>
</g>
<!-- wave line -->
<polyline points="60.3,493.7 136.3,354.6 171.1,441.7 506.3,210.3 540.7,280.4 675.7,60 731.5,314.4 800,170.3 1003.2,483.2" fill="none" stroke="#0070c0" stroke-width="4.6" stroke-linejoin="round" stroke-linecap="butt"/>
<circle cx="1003.2" cy="483.2" r="2.3" fill="#0070c0"/>
<!-- arrows -->
<line x1="132.9" y1="387.4" x2="133.5" y2="489.0" stroke="#000" stroke-width="1.9"/><polygon points="132.8,378.0 128.5,391.5 132.9,389.1 137.3,391.5" fill="#000"/><polygon points="133.5,497.0 128.4,485.5 133.4,487.6 138.4,485.5" fill="#000"/>
<line x1="504.1" y1="232.4" x2="505.3" y2="429.4" stroke="#000" stroke-width="1.9"/><polygon points="504.0,223.0 499.7,236.5 504.1,234.1 508.5,236.5" fill="#000"/><polygon points="505.4,437.4 500.3,425.9 505.3,428.0 510.3,425.9" fill="#000"/>
<line x1="672.2" y1="82.7" x2="673.2" y2="280.0" stroke="#000" stroke-width="1.9"/><polygon points="672.2,73.3 667.9,86.8 672.3,84.4 676.7,86.8" fill="#000"/><polygon points="673.2,288.0 668.1,276.5 673.2,278.6 678.1,276.5" fill="#000"/>
<line x1="733.6" y1="70.5" x2="734.3" y2="275.3" stroke="#ed1c24" stroke-width="2.8"/><polygon points="733.5,56.0 727.1,76.7 733.6,73.0 740.1,76.7" fill="#ed1c24"/><polygon points="734.3,287.0 727.1,270.3 734.3,273.3 741.4,270.3" fill="#ed1c24"/>
<line x1="1031.4" y1="69.5" x2="1032.0" y2="470.3" stroke="#ed1c24" stroke-width="2.6"/><polygon points="1031.4,55.0 1024.9,75.7 1031.4,72.0 1037.9,75.7" fill="#ed1c24"/><polygon points="1032.0,482.0 1024.8,465.3 1032.0,468.3 1039.1,465.3" fill="#ed1c24"/>
<line x1="1031.85" y1="374" x2="1032" y2="470" stroke="#ed1c24" stroke-width="3.3"/>
<!-- circled labels -->
<text x="132" y="345.02" font-size="17.8" text-anchor="middle" class="cn">①</text>
<text x="172.7" y="466.62" font-size="17.8" text-anchor="middle" class="cn">②</text>
<text x="503.3" y="196.02" font-size="17.8" text-anchor="middle" class="cn">③</text>
<text x="542.3" y="307.62" font-size="17.8" text-anchor="middle" class="cn">④</text>
<text x="674" y="48.82" font-size="17.8" text-anchor="middle" class="cn">⑤</text>
<text x="734.2" y="338.92" font-size="17.8" text-anchor="middle" class="cn">Ⓐ</text>
<text x="799.2" y="160.22" font-size="17.8" text-anchor="middle" class="cn">Ⓑ</text>
<text x="1004.6" y="511.12" font-size="17.8" text-anchor="middle" class="cn">Ⓒ</text>
<!-- boxes -->
<rect x="28.5" y="411.5" width="90.0" height="32.5" fill="#fff" stroke="#666" stroke-width="1"/><text x="74.90" y="435.04" font-size="20.4" text-anchor="middle" class="num">11560</text>
<rect x="109.3" y="503.3" width="51.2" height="38.1" fill="#fff" stroke="#666" stroke-width="1"/><text x="135.10" y="530.05" font-size="22.5" text-anchor="middle" class="num">1</text>
<rect x="296" y="310.8" width="94.2" height="32.2" fill="#fff" stroke="#666" stroke-width="1"/><text x="344.90" y="334.44" font-size="20.4" text-anchor="middle" class="num">18450</text>
<rect x="468.5" y="445.5" width="72.2" height="37.7" fill="#fff" stroke="#666" stroke-width="1"/><text x="504.35" y="472.10" font-size="22.5" text-anchor="middle" class="num">1.59</text>
<rect x="547.5" y="156" width="94.0" height="32.7" fill="#fff" stroke="#666" stroke-width="1"/><text x="594.85" y="179.74" font-size="20.4" text-anchor="middle" class="num">18180</text>
<rect x="631.8" y="293.5" width="72.2" height="37.7" fill="#fff" stroke="#666" stroke-width="1"/><text x="667.50" y="320.05" font-size="22.5" text-anchor="middle" class="num">1.57</text>
<rect x="697.5" y="13" width="72.0" height="37.9" fill="#fff" stroke="#666" stroke-width="1"/><text x="731.90" y="39.50" font-size="22.5" text-anchor="middle" class="num">0.62</text>
<rect x="692.3" y="153.5" width="90.0" height="32.8" fill="#fff" stroke="#666" stroke-width="1"/><text x="738.25" y="177.14" font-size="20.4" text-anchor="middle" class="num">21190</text>
<rect x="991.5" y="226.7" width="81.0" height="32.3" fill="#fff" stroke="#666" stroke-width="1"/><text x="1031.90" y="249.94" font-size="20.4" text-anchor="middle" class="num">34020</text>
<rect x="1005.5" y="12.5" width="51.2" height="37.3" fill="#fff" stroke="#666" stroke-width="1"/><text x="1031.05" y="38.60" font-size="22.5" text-anchor="middle" class="num">1</text>
<!-- title -->
<text y="50.8" class="ttl"><tspan x="28" class="cj" letter-spacing=".6">原油週足（</tspan><tspan x="164" class="la" textLength="94.7" lengthAdjust="spacing">Trading</tspan><tspan class="la"> </tspan><tspan x="268" class="la" textLength="61" lengthAdjust="spacing">View</tspan><tspan class="la"> </tspan><tspan x="335.5" class="cj" font-size="27.6" letter-spacing=".25">より）</tspan></text>
<!-- axis labels -->
<text x="1129" y="32.2" class="ax">60000</text><text x="1129" y="94.2" class="ax">55000</text><text x="1129" y="156.2" class="ax">50000</text><text x="1129" y="218.2" class="ax">45000</text><text x="1129" y="280.2" class="ax">40000</text><text x="1129" y="342.2" class="ax">35000</text><text x="1129" y="404.2" class="ax">30000</text><text x="1129" y="466.2" class="ax">25000</text><text x="1129" y="528.2" class="ax">20000</text>
<text x="12.8" y="605.8" class="yr">2016</text><text x="242.8" y="605.8" class="yr">2017</text><text x="473" y="605.8" class="yr">2018</text><text x="708" y="605.8" class="yr">2019</text><text x="934" y="605.8" class="yr">2020</text>
</svg>
</body></html>
